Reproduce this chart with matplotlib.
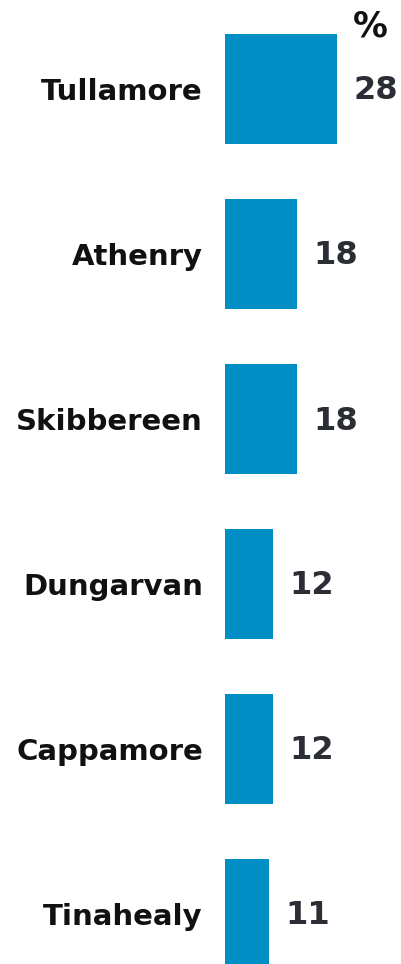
import matplotlib.pyplot as plt

towns = ['Tullamore', 'Athenry', 'Skibbereen', 'Dungarvan', 'Cappamore', 'Tinahealy']
values = [28, 18, 18, 12, 12, 11]

bar_color = '#008fc5'
value_color = '#2b2e34'

fig = plt.figure(figsize=(4.01, 9.64), dpi=100)
ax = fig.add_axes([225 / 401, 0, 176 / 401, 1])

ypos = list(range(len(towns)))
ax.barh(ypos, values, height=110 / 165, color=bar_color)

ax.set_xlim(0, 44)
ax.set_ylim((964 - 89) / 165, -89 / 165)

for y, v in zip(ypos, values):
    ax.text(v + 4.0, y + 2 / 165, str(v), ha='left', va='center', fontsize=23,
            fontweight='bold', color=value_color)

# percent sign above the first value
ax.text(values[0] + 4.0, -89 / 165 + 27 / 165, '%', ha='left', va='center',
        fontsize=25, fontweight='bold', color='#111111')

ax.set_yticks(ypos)
ax.set_yticklabels(towns, fontsize=21, fontweight='bold', color='#111111')
ax.tick_params(axis='y', length=0, pad=16)
ax.set_xticks([])
for s in ax.spines.values():
    s.set_visible(False)

fig.savefig('out.png', dpi=100)
